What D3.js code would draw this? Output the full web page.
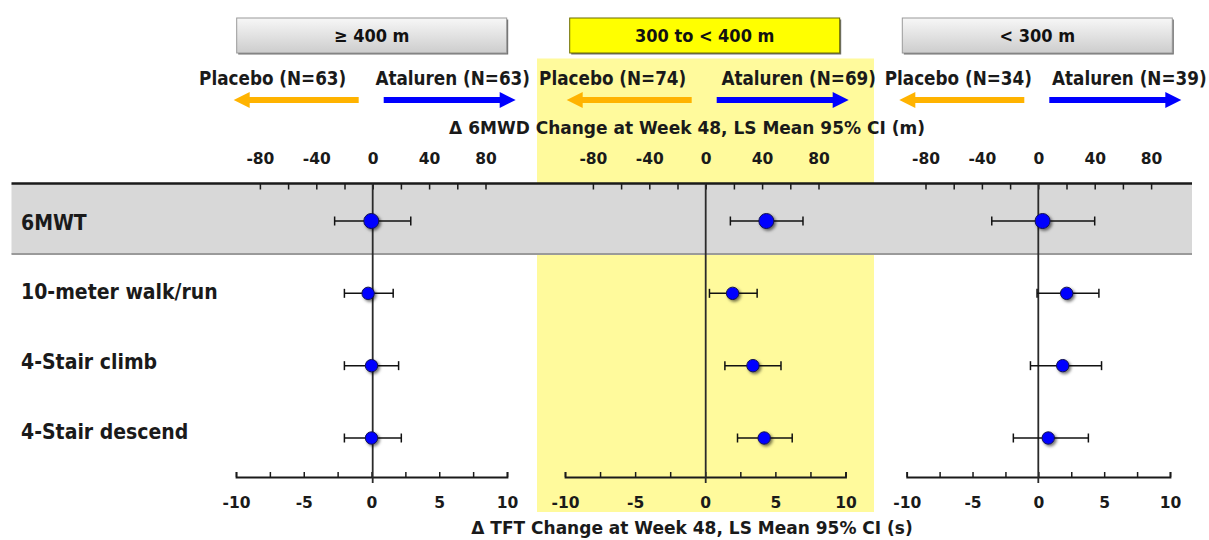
<!DOCTYPE html>
<html>
<head>
<meta charset="utf-8">
<script src="https://cdn.jsdelivr.net/npm/d3@7/dist/d3.min.js"></script>
<style>
  html, body { margin: 0; padding: 0; background: #ffffff; }
  svg { display: block; }
  text { font-family: 'DejaVu Sans Condensed', 'DejaVu Sans', sans-serif; font-stretch: condensed; font-weight: bold; fill: #1a1a1a; }
  text.wide { font-family: 'DejaVu Sans', sans-serif; font-stretch: normal; }
</style>
</head>
<body>
<svg id="chart" width="1209" height="540"></svg>
<script>
// ---- data ----------------------------------------------------------------
const categories = ["6MWT", "10-meter walk/run", "4-Stair climb", "4-Stair descend"];
const groupLabels = ["\u2265 400 m", "300 to < 400 m", "< 300 m"];
const placeboN = [63, 74, 34];
const atalurenN = [63, 69, 39];

// LS mean difference and 95% CI; 6MWT in metres, timed function tests in seconds
const meanGe400 = [-1, -0.25, 0, 0];
const lowGe400  = [-27, -2.0, -2.0, -2.0];
const highGe400 = [27, 1.6, 2.0, 2.2];

const mean300to400 = [43, 1.95, 3.4, 4.2];
const low300to400  = [17.5, 0.3, 1.4, 2.3];
const high300to400 = [69, 3.7, 5.4, 6.2];

const meanLt300 = [3, 2.15, 1.85, 0.75];
const lowLt300  = [-33, -0.1, -0.6, -1.9];
const highLt300 = [40, 4.6, 4.8, 3.8];

const topTickLabels = [-80, -40, 0, 40, 80];
const topTickMarks = [-80, -60, -40, -20, 0, 20, 40, 60, 80];
const bottomTickLabels = [-10, -5, 0, 5, 10];
const bottomTickMarks = [-10, -7.5, -5, -2.5, 0, 2.5, 5, 7.5, 10];

const topTitle = "\u0394 6MWD Change at Week 48, LS Mean 95% CI (m)";
const bottomTitle = "\u0394 TFT Change at Week 48, LS Mean 95% CI (s)";

// ---- layout ----------------------------------------------------------------
const panels = [
  { label: groupLabels[0], nP: placeboN[0], nA: atalurenN[0], mean: meanGe400, low: lowGe400, high: highGe400,
    center: 372.7, topHalf: 141, bottomRange: [236, 507], placeboDx: -100, atalurenDx: 80 },
  { label: groupLabels[1], nP: placeboN[1], nA: atalurenN[1], mean: mean300to400, low: low300to400, high: high300to400,
    center: 705.7, topHalf: 141, bottomRange: [565, 845.5], placeboDx: -93, atalurenDx: 93, highlight: true },
  { label: groupLabels[2], nP: placeboN[2], nA: atalurenN[2], mean: meanLt300, low: lowLt300, high: highLt300,
    center: 1038.3, topHalf: 141, bottomRange: [906.7, 1170], placeboDx: -80, atalurenDx: 91 }
];

const topAxisY = 183.5;
const bottomAxisY = 477;
const bandBottom = 254;
const plainNumber = d => String(d);
const svg = d3.select("#chart");

const defs = svg.append("defs");
const grad = defs.append("linearGradient").attr("id", "boxGrad")
  .attr("x1", 0).attr("y1", 0).attr("x2", 0).attr("y2", 1);
grad.append("stop").attr("offset", "0%").attr("stop-color", "#f7f7f7");
grad.append("stop").attr("offset", "100%").attr("stop-color", "#cdcdcd");

const shadow = defs.append("filter").attr("id", "dotShadow")
  .attr("x", "-50%").attr("y", "-50%").attr("width", "200%").attr("height", "200%");
shadow.append("feDropShadow").attr("dx", 1.8).attr("dy", 1.8).attr("stdDeviation", 1.4)
  .attr("flood-color", "#000").attr("flood-opacity", 0.55);

// highlighted subgroup background
panels.filter(p => p.highlight).forEach(p => {
  svg.append("rect").attr("x", 537).attr("y", 58.5).attr("width", 337).attr("height", 453.5)
    .attr("fill", "#fffa9c");
});

// 6MWT row band
const yRow = d3.scalePoint().domain(categories).range([221, 438]);
const yLabel = d3.scalePoint().domain(categories).range([222, 431]);

svg.append("rect").attr("x", 11.5).attr("y", topAxisY).attr("width", 1192 - 11.5)
  .attr("height", bandBottom - topAxisY).attr("fill", "#d8d8d8");
svg.append("line").attr("x1", 11.5).attr("x2", 1192).attr("y1", bandBottom).attr("y2", bandBottom)
  .attr("stroke", "#9a9a9a").attr("stroke-width", 2);

// long top axis line
svg.append("line").attr("x1", 11.5).attr("x2", 1192).attr("y1", topAxisY).attr("y2", topAxisY)
  .attr("stroke", "#1a1a1a").attr("stroke-width", 2.5);

// row labels
svg.append("g").selectAll("text").data(categories).join("text")
  .attr("x", 21).attr("y", d => yLabel(d)).attr("dy", "0.36em")
  .style("font-size", "21px").text(d => d);

panels.forEach(p => {
  const xTop = d3.scaleLinear().domain([-100, 100]).range([p.center - p.topHalf, p.center + p.topHalf]);
  const xBottom = d3.scaleLinear().domain([-10, 10]).range(p.bottomRange);
  const xScale = i => i === 0 ? xTop : xBottom;

  // subgroup header box
  const bw = 270, bh = 35, bx = p.center - bw / 2 - 1, by = 18;
  svg.append("rect").attr("x", bx + 1.5).attr("y", by + 1.5).attr("width", bw).attr("height", bh)
    .attr("fill", "#6e6e6e");
  svg.append("rect").attr("x", bx).attr("y", by).attr("width", bw).attr("height", bh)
    .attr("fill", p.highlight ? "#ffff00" : "url(#boxGrad)")
    .attr("stroke", p.highlight ? "#6b6b00" : "#9a9a9a").attr("stroke-width", 1);
  svg.append("text").attr("x", bx + bw / 2).attr("y", by + bh / 2).attr("dy", "0.36em")
    .attr("text-anchor", "middle").style("font-size", "18px").style("fill", "#111").text(p.label);

  // treatment direction labels and arrows
  svg.append("text").attr("x", p.center + p.placeboDx).attr("y", 85).attr("text-anchor", "middle")
    .style("font-size", "18.7px").text(`Placebo (N=${p.nP})`);
  svg.append("text").attr("x", p.center + p.atalurenDx).attr("y", 85).attr("text-anchor", "middle")
    .style("font-size", "18.7px").text(`Ataluren (N=${p.nA})`);

  const arrowY = 100;
  const drawArrow = (x0, x1, color) => {
    const dir = Math.sign(x1 - x0);
    const headLen = 16, headHalf = 8;
    svg.append("line").attr("x1", x0).attr("x2", x1 - dir * headLen + dir).attr("y1", arrowY).attr("y2", arrowY)
      .attr("stroke", color).attr("stroke-width", 6);
    svg.append("path")
      .attr("d", `M${x1},${arrowY} L${x1 - dir * headLen},${arrowY - headHalf} L${x1 - dir * headLen},${arrowY + headHalf} Z`)
      .attr("fill", color);
  };
  drawArrow(p.center - 14, p.center - 139, "#ffb300");
  drawArrow(p.center + 11, p.center + 143, "#0000ff");

  // top axis (metres): tick marks hang below the line, labels above
  svg.append("g").attr("transform", `translate(0,${topAxisY})`)
    .call(d3.axisBottom(xTop).tickValues(topTickMarks).tickSize(6).tickFormat(""))
    .call(g => g.select(".domain").remove())
    .call(g => g.selectAll(".tick line").attr("stroke", "#1a1a1a").attr("stroke-width", 1.5));
  svg.append("g").attr("transform", `translate(0,163.5)`)
    .call(d3.axisTop(xTop).tickValues(topTickLabels).tickSize(0).tickPadding(0).tickFormat(plainNumber))
    .call(g => g.select(".domain").remove())
    .call(g => g.selectAll(".tick text").attr("class", "wide").attr("dy", 0).style("font-size", "15.5px")
      .attr("font-family", null).style("fill", "#1a1a1a"));

  // bottom axis (seconds): tick marks point up, labels below
  svg.append("g").attr("transform", `translate(0,${bottomAxisY})`)
    .call(d3.axisTop(xBottom).tickValues(bottomTickMarks).tickSize(5).tickSizeOuter(5).tickFormat(""))
    .call(g => g.select(".domain").attr("stroke", "#1a1a1a").attr("stroke-width", 1.8))
    .call(g => g.selectAll(".tick line").attr("stroke", "#1a1a1a").attr("stroke-width", 1.5));
  svg.append("g").attr("transform", `translate(0,508)`)
    .call(d3.axisBottom(xBottom).tickValues(bottomTickLabels).tickSize(0).tickPadding(0).tickFormat(plainNumber))
    .call(g => g.select(".domain").remove())
    .call(g => g.selectAll(".tick text").attr("class", "wide").attr("dy", 0).attr("y", 0).style("font-size", "15.5px")
      .attr("font-family", null).style("fill", "#1a1a1a"));

  // zero reference line
  svg.append("line").attr("x1", xTop(0)).attr("x2", xTop(0)).attr("y1", topAxisY).attr("y2", bottomAxisY + 6)
    .attr("stroke", "#2a2a2a").attr("stroke-width", 1.8);

  // confidence intervals and point estimates
  const rows = categories.map((c, i) => ({ c, i, m: p.mean[i], lo: p.low[i], hi: p.high[i] }));
  const g = svg.append("g");
  rows.forEach(r => {
    const xs = xScale(r.i), y = yRow(r.c);
    g.append("line").attr("x1", xs(r.lo)).attr("x2", xs(r.hi)).attr("y1", y).attr("y2", y)
      .attr("stroke", "#111").attr("stroke-width", 1.5);
    [r.lo, r.hi].forEach(v => g.append("line").attr("x1", xs(v)).attr("x2", xs(v))
      .attr("y1", y - 4.5).attr("y2", y + 4.5).attr("stroke", "#111").attr("stroke-width", 1.5));
  });
  g.selectAll("circle").data(rows).join("circle")
    .attr("cx", r => xScale(r.i)(r.m)).attr("cy", r => yRow(r.c))
    .attr("r", r => r.i === 0 ? 7.5 : 6.2)
    .attr("fill", "#0000ff").attr("stroke", "#141450").attr("stroke-width", 1)
    .attr("filter", "url(#dotShadow)");
});

// axis titles
svg.append("text").attr("class", "wide").attr("x", 687).attr("y", 134).attr("text-anchor", "middle")
  .style("font-size", "17px").text(topTitle);
svg.append("text").attr("class", "wide").attr("x", 692).attr("y", 534).attr("text-anchor", "middle")
  .style("font-size", "17px").text(bottomTitle);
</script>
</body>
</html>
